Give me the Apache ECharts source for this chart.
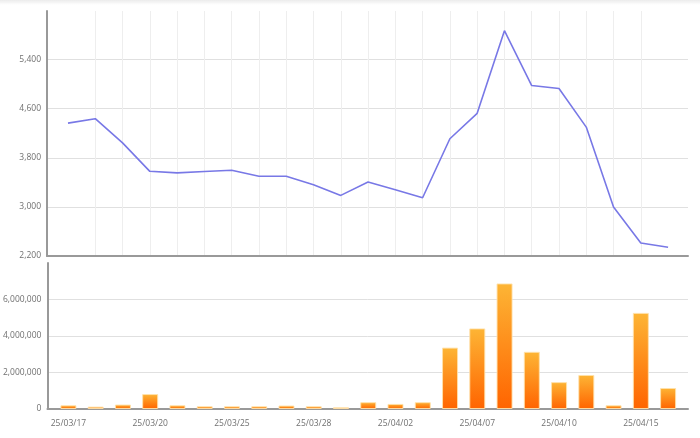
<!DOCTYPE html>
<html><head><meta charset="utf-8">
<script src="https://cdn.jsdelivr.net/npm/echarts@6/dist/echarts.min.js"></script>
<style>html,body{margin:0;padding:0;background:#fff}#w{position:relative;width:700px;height:438px}#c{width:700px;height:438px}#s{position:absolute;left:0;top:0;width:700px;height:5px;pointer-events:none;background:linear-gradient(#ececec,rgba(255,255,255,0))}</style>
</head><body><div id="w"><div id="c"></div><div id="s"></div></div>
<script>
var dates = ['25/03/17','25/03/18','25/03/19','25/03/20','25/03/21','25/03/24','25/03/25','25/03/26','25/03/27','25/03/28','25/03/31','25/04/01','25/04/02','25/04/03','25/04/04','25/04/07','25/04/08','25/04/09','25/04/10','25/04/11','25/04/14','25/04/15','25/04/16'];
var prices = [4364,4436,4043,3579,3553,3575,3596,3498,3498,3362,3187,3405,3280,3149,4109,4523,5870,4976,4927,4299,2997,2413,2342];
var volumes = [205000,130000,244000,817000,205000,150000,150000,150000,190000,150000,94000,372000,278000,372000,3360000,4410000,6870000,3130000,1470000,1860000,205000,5260000,1150000];
var priceTicks = [2200,3000,3800,4600,5400];
var volumeTicks = [0,2000000,4000000,6000000];
var labelIdx = [0,3,6,9,12,15,18,21];

var idx = dates.map(function(d,i){return i;});
var font = '"Open Sans", "Noto Sans", sans-serif';
var chart = echarts.init(document.getElementById('c'), null, {renderer:'canvas'});
function fmt(v){return echarts.format.addCommas(v);}
chart.setOption({
  animation:false,
  backgroundColor:'#fff',
  grid:[
    {left:47,right:12,top:11,bottom:182},
    {left:47,right:12,top:263,bottom:29}
  ],
  xAxis:[
    {gridIndex:0,type:'value',min:-0.77,max:22.73,
     axisLine:{show:true,onZero:false,lineStyle:{color:'#999',width:2}},
     axisTick:{show:false,customValues:idx},
     axisLabel:{show:false,customValues:idx},
     splitLine:{show:true,showMinLine:false,showMaxLine:false,lineStyle:{color:'#eeeeee',width:1}}},
    {gridIndex:1,type:'value',min:-0.77,max:22.73,
     axisLine:{show:true,onZero:false,lineStyle:{color:'#999',width:2}},
     axisTick:{show:false,customValues:labelIdx},
     axisLabel:{show:true,customValues:labelIdx,color:'#707070',fontSize:8.5,fontFamily:font,margin:10,
       formatter:function(v){return dates[Math.round(v)]||'';}},
     splitLine:{show:false}}
  ],
  yAxis:[
    {gridIndex:0,type:'value',min:2200,max:6190,interval:800,
     axisLine:{show:true,onZero:false,lineStyle:{color:'#999',width:2}},
     axisTick:{show:false},
     axisLabel:{color:'#707070',fontSize:8.5,fontFamily:font,margin:6,
       formatter:function(v){return priceTicks.indexOf(v)>=0?fmt(v):'';}},
     splitLine:{show:true,showMaxLine:false,lineStyle:{color:'#e0e0e0',width:1}}},
    {gridIndex:1,type:'value',min:0,max:7990000,interval:2000000,
     axisLine:{show:true,onZero:false,lineStyle:{color:'#999',width:2}},
     axisTick:{show:false},
     axisLabel:{color:'#707070',fontSize:8.5,fontFamily:font,margin:6,
       formatter:function(v){return volumeTicks.indexOf(v)>=0?fmt(v):'';}},
     splitLine:{show:true,showMaxLine:false,lineStyle:{color:'#e0e0e0',width:1}}}
  ],
  series:[
    {type:'line',xAxisIndex:0,yAxisIndex:0,showSymbol:false,
     data:prices.map(function(v,i){return [i,v];}),
     lineStyle:{color:'#7878e6',width:1.6}},
    {type:'bar',xAxisIndex:1,yAxisIndex:1,barWidth:16,
     data:volumes.map(function(v,i){return [i,v];}),
     itemStyle:{borderColor:'rgba(255,225,170,0.9)',borderWidth:1,
       color:new echarts.graphic.LinearGradient(0,0,0,1,[{offset:0,color:'#fdb535'},{offset:1,color:'#ff6400'}])}}
  ]
});
</script></body></html>
